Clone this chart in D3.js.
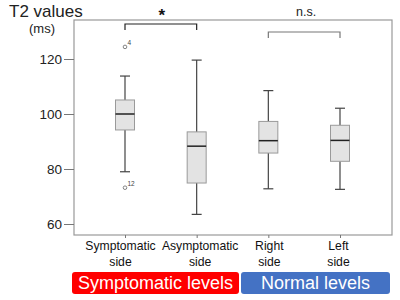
<!DOCTYPE html>
<html><head><meta charset="utf-8">
<script src="https://cdn.jsdelivr.net/npm/d3@7"></script>
<style>body{margin:0;background:#fff}svg{display:block;font-family:"Liberation Sans",Arial,sans-serif}</style>
</head><body><svg id="c" width="400" height="300"></svg>
<script>
const categories = ["Symptomatic side","Asymptomatic side","Right side","Left side"];
const whiskerLow  = [79.0, 63.5, 72.8, 72.6];
const q1          = [94.2, 74.9, 85.8, 82.8];
const medians     = [100.0, 88.3, 90.3, 90.4];
const q3          = [105.1, 93.5, 97.3, 95.9];
const whiskerHigh = [113.8, 119.6, 108.5, 102.1];
const outlierCat  = [0, 0];
const outlierVal  = [124.4, 73.2];
const outlierLbl  = ["4", "12"];
const yTicks = [60, 80, 100, 120];
const groups = ["Symptomatic levels", "Normal levels"];
const groupColors = ["#ff0000", "#4472c4"];
const sigLabels = ["*", "n.s."];
const sigPairs = [[0,1],[2,3]];

const svg = d3.select("#c");
const y = d3.scaleLinear().domain([60,120]).range([224,59]);
const x = d3.scalePoint().domain(categories).range([125,340]);
const frame = {l:74, r:392, t:20, b:235};

svg.append("rect").attr("x",frame.l).attr("y",frame.t).attr("width",frame.r-frame.l).attr("height",frame.b-frame.t)
  .attr("fill","none").attr("stroke","#999").attr("stroke-width",1.2);

const ya = svg.append("g").attr("transform",`translate(${frame.l},0)`)
  .call(d3.axisLeft(y).tickValues(yTicks).tickSize(10).tickPadding(2));
ya.select(".domain").remove();
ya.selectAll("line").attr("stroke","#777");
ya.selectAll("text").attr("font-size",13.5).attr("fill","#222").attr("font-family","Liberation Sans, Arial, sans-serif");

const xa = svg.append("g").attr("transform",`translate(0,${frame.b})`)
  .call(d3.axisBottom(x).tickSize(3).tickFormat(""));
xa.select(".domain").remove();
xa.selectAll("line").attr("stroke","#777");

const labelShift = [-4.5, 3.5, 1, -1.5];
categories.forEach((c,i)=>{
  const parts = c.split(" ");
  const lx = x(c) + labelShift[i];
  const t = svg.append("text").attr("text-anchor","middle").attr("font-size",12.2).attr("fill","#111");
  t.append("tspan").attr("x",lx).attr("y",250).text(parts[0]);
  t.append("tspan").attr("x",lx).attr("y",265.5).text(parts[1]);
});

const bw = 19;
categories.forEach((c,i)=>{
  const cx = x(c);
  const g = svg.append("g");
  g.append("line").attr("x1",cx).attr("x2",cx).attr("y1",y(whiskerHigh[i])).attr("y2",y(q3[i])).attr("stroke","#444").attr("stroke-width",1.2);
  g.append("line").attr("x1",cx).attr("x2",cx).attr("y1",y(q1[i])).attr("y2",y(whiskerLow[i])).attr("stroke","#444").attr("stroke-width",1.2);
  g.append("line").attr("x1",cx-5).attr("x2",cx+5).attr("y1",y(whiskerHigh[i])).attr("y2",y(whiskerHigh[i])).attr("stroke","#444").attr("stroke-width",1.2);
  g.append("line").attr("x1",cx-5).attr("x2",cx+5).attr("y1",y(whiskerLow[i])).attr("y2",y(whiskerLow[i])).attr("stroke","#444").attr("stroke-width",1.2);
  g.append("rect").attr("x",cx-bw/2).attr("y",y(q3[i])).attr("width",bw).attr("height",y(q1[i])-y(q3[i]))
    .attr("fill","#e3e3e3").attr("stroke","#9a9a9a").attr("stroke-width",1);
  g.append("line").attr("x1",cx-bw/2).attr("x2",cx+bw/2).attr("y1",y(medians[i])).attr("y2",y(medians[i])).attr("stroke","#222").attr("stroke-width",1.5);
});

outlierVal.forEach((v,i)=>{
  const cx = x(categories[outlierCat[i]]);
  svg.append("circle").attr("cx",cx).attr("cy",y(v)).attr("r",1.8).attr("fill","none").attr("stroke","#666").attr("stroke-width",0.8);
  svg.append("text").attr("x",cx+2.5).attr("y",y(v)-2).attr("font-size",6.5).attr("fill","#444").text(outlierLbl[i]);
});

const bracketY = [24, 32];
sigPairs.forEach((p,i)=>{
  const x1 = x(categories[p[0]]), x2 = x(categories[p[1]]);
  svg.append("path").attr("d",`M${x1},${bracketY[i]+6}V${bracketY[i]}H${x2}V${bracketY[i]+6}`)
    .attr("fill","none").attr("stroke", i===0?"#222":"#777").attr("stroke-width",1.2);
});
svg.append("text").attr("x",(x(categories[0])+x(categories[1]))/2+1).attr("y",21).attr("text-anchor","middle")
  .attr("font-size",17).attr("font-weight","bold").attr("fill","#111").text(sigLabels[0]);
svg.append("text").attr("x",(x(categories[2])+x(categories[3]))/2+2).attr("y",16).attr("text-anchor","middle")
  .attr("font-size",12.5).attr("fill","#222").text(sigLabels[1]);

svg.append("text").attr("x",9).attr("y",17).attr("font-size",17).attr("fill","#222").text("T2 values");
svg.append("text").attr("x",29).attr("y",33).attr("font-size",13).attr("fill","#222").text("(ms)");

const gb = [[72,239],[241,390]];
groups.forEach((gname,i)=>{
  svg.append("rect").attr("x",gb[i][0]).attr("y",272).attr("width",gb[i][1]-gb[i][0]).attr("height",22)
    .attr("rx",3).attr("fill",groupColors[i]);
  svg.append("text").attr("x",(gb[i][0]+gb[i][1])/2).attr("y",289).attr("text-anchor","middle")
    .attr("font-size",18).attr("fill","#fff").text(gname);
});
</script></body></html>
